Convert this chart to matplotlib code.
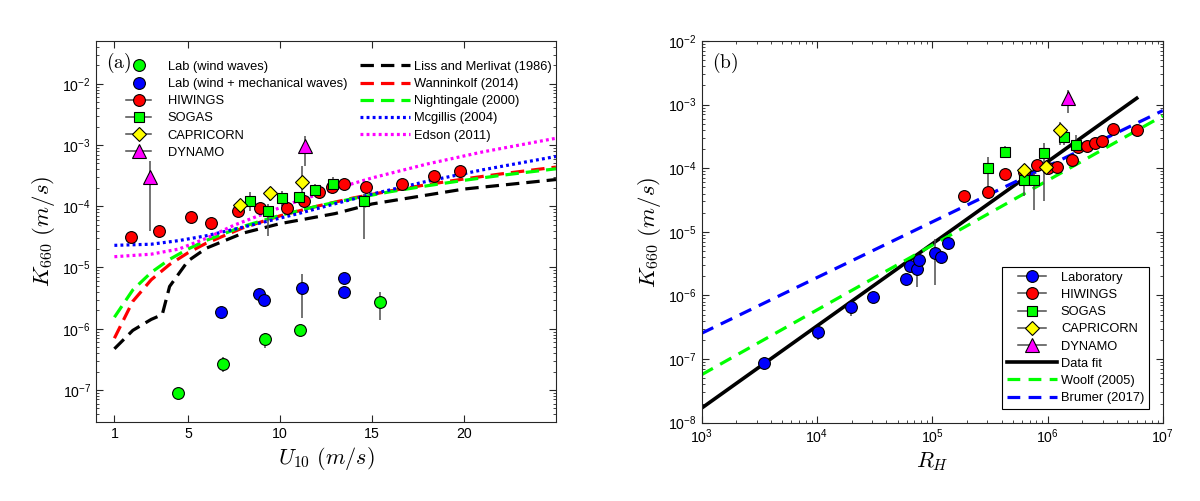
import numpy as np
import matplotlib.pyplot as plt
from matplotlib.lines import Line2D
from matplotlib.legend_handler import HandlerLine2D

plt.rcParams['font.family'] = ['Liberation Sans', 'DejaVu Sans']
plt.rcParams['mathtext.fontset'] = 'custom'
plt.rcParams['mathtext.rm'] = 'Liberation Sans'
plt.rcParams['mathtext.it'] = 'Liberation Sans:italic'
plt.rcParams['mathtext.bf'] = 'Liberation Sans:bold'

# ---------------- panel (a): K660 vs U10 ----------------
# lab, wind waves only
lab_ww_u = [4.46, 6.91, 9.21, 11.11, 15.46]
lab_ww_k = [8.8e-8, 2.7e-7, 6.7e-7, 9.7e-7, 2.7e-6]
lab_ww_lo = [8.8e-8, 2.0e-7, 4.8e-7, 9.7e-7, 1.4e-6]
lab_ww_hi = [8.8e-8, 3.4e-7, 8.5e-7, 9.7e-7, 4.0e-6]

# lab, wind + mechanical waves
lab_wm_u = [6.78, 8.88, 9.13, 11.22, 13.46, 13.46]
lab_wm_k = [1.86e-6, 3.74e-6, 2.95e-6, 4.69e-6, 6.8e-6, 4.0e-6]
lab_wm_lo = [1.86e-6, 3.74e-6, 2.95e-6, 1.47e-6, 6.8e-6, 4.0e-6]
lab_wm_hi = [1.86e-6, 3.74e-6, 2.95e-6, 7.9e-6, 6.8e-6, 4.0e-6]

hiw_u = [1.89, 3.43, 5.17, 6.27, 7.74, 8.93, 10.38, 11.29, 12.12, 12.83,
         13.46, 14.66, 16.63, 18.39, 19.8]
hiw_k = [3.1e-5, 3.9e-5, 6.6e-5, 5.4e-5, 8.3e-5, 9.2e-5, 9.3e-5, 1.2e-4,
         1.7e-4, 2.1e-4, 2.28e-4, 2.07e-4, 2.3e-4, 3.1e-4, 3.7e-4]

sog_u = [8.39, 9.35, 10.09, 11.02, 11.91, 12.9, 14.59]
sog_k = [1.24e-4, 8.5e-5, 1.38e-4, 1.43e-4, 1.87e-4, 2.34e-4, 1.24e-4]
sog_lo = [8.5e-5, 3.3e-5, 1.0e-4, 1.25e-4, 1.5e-4, 1.75e-4, 2.9e-5]
sog_hi = [1.7e-4, 1.1e-4, 1.8e-4, 1.6e-4, 2.3e-4, 3.0e-4, 1.6e-4]

cap_u = [7.85, 9.44, 11.22]
cap_k = [1.06e-4, 1.65e-4, 2.5e-4]
cap_lo = [1.06e-4, 1.2e-4, 1.4e-4]
cap_hi = [1.06e-4, 2.1e-4, 4.6e-4]

dyn_u = [2.96, 11.34]
dyn_k = [3.0e-4, 9.7e-4]
dyn_lo = [4.0e-5, 4.6e-4]
dyn_hi = [5.5e-4, 1.38e-3]

# parameterisations
lm_u = [1, 2, 3, 3.6, 4, 5, 6, 8, 10, 13, 15, 20, 25]
lm_k = [4.7e-7, 9.4e-7, 1.42e-6, 1.7e-6, 4.9e-6, 1.28e-5, 2.07e-5, 3.65e-5,
        5.2e-5, 7.6e-5, 1.09e-4, 1.91e-4, 2.73e-4]
wan_u = [1, 2, 3, 4, 5, 6, 8, 10, 12, 14, 16, 18, 20, 22, 25]
wan_k = [7.0e-7, 2.8e-6, 6.3e-6, 1.12e-5, 1.74e-5, 2.5e-5, 4.46e-5, 6.97e-5,
         1.0e-4, 1.37e-4, 1.78e-4, 2.26e-4, 2.79e-4, 3.37e-4, 4.36e-4]
nig_u = [1, 2, 3, 4, 5, 6, 8, 10, 12, 14, 16, 18, 20, 22, 25]
nig_k = [1.54e-6, 4.3e-6, 8.3e-6, 1.36e-5, 2.0e-5, 2.78e-5, 4.69e-5, 7.09e-5,
         1.0e-4, 1.34e-4, 1.73e-4, 2.16e-4, 2.65e-4, 3.19e-4, 4.09e-4]
mcg_u = [1, 3, 4.5, 6, 7.5, 9, 11, 13, 15, 18, 21, 25]
mcg_k = [2.3e-5, 2.4e-5, 2.75e-5, 3.3e-5, 4.2e-5, 5.4e-5, 7.6e-5, 1.1e-4,
         1.58e-4, 2.56e-4, 3.93e-4, 6.5e-4]
eds_u = [1, 3, 4.5, 6, 7.5, 9, 11, 13, 15, 18, 21, 25]
eds_k = [1.5e-5, 1.65e-5, 2.0e-5, 3.0e-5, 4.9e-5, 7.3e-5, 1.23e-4, 1.93e-4,
         2.9e-4, 4.9e-4, 7.7e-4, 1.29e-3]

# ---------------- panel (b): K660 vs R_H ----------------
lab_rh = [3.45e3, 1.03e4, 1.96e4, 3.03e4, 5.93e4, 6.43e4, 7.3e4, 7.7e4,
          1.06e5, 1.19e5, 1.36e5]
lab_k = [8.8e-8, 2.7e-7, 6.5e-7, 9.6e-7, 1.8e-6, 2.86e-6, 2.6e-6, 3.6e-6,
         4.6e-6, 4.0e-6, 6.6e-6]
lab_lo = [8.8e-8, 2.0e-7, 4.7e-7, 9.6e-7, 1.8e-6, 2.86e-6, 1.35e-6, 3.6e-6,
          1.46e-6, 4.0e-6, 6.6e-6]
lab_hi = [8.8e-8, 2.7e-7, 6.5e-7, 9.6e-7, 1.8e-6, 2.86e-6, 3.7e-6, 3.6e-6,
          7.7e-6, 4.0e-6, 6.6e-6]

hiw_rh = [1.9e5, 3.05e5, 4.28e5, 6.2e5, 8.1e5, 1.0e6, 1.2e6, 1.62e6, 1.85e6,
          2.19e6, 2.59e6, 2.98e6, 3.68e6, 5.95e6]
hiw_kb = [3.72e-5, 4.3e-5, 8.05e-5, 8.6e-5, 1.13e-4, 1.0e-4, 1.04e-4, 1.35e-4,
          2.19e-4, 2.27e-4, 2.47e-4, 2.72e-4, 4.1e-4, 4.0e-4]

sog_rh = [3.05e5, 4.28e5, 6.3e5, 7.7e5, 9.4e5, 1.4e6, 1.76e6]
sog_kb = [1.0e-4, 1.83e-4, 6.56e-5, 6.6e-5, 1.76e-4, 3.07e-4, 2.3e-4]
sog_lob = [4.3e-5, 1.43e-4, 3.7e-5, 2.2e-5, 3.0e-5, 2.3e-4, 1.83e-4]
sog_hib = [1.52e-4, 2.24e-4, 8.3e-5, 8.3e-5, 2.47e-4, 4.0e-4, 3.3e-4]

cap_rh = [6.3e5, 9.7e5, 1.29e6]
cap_kb = [9.4e-5, 1.04e-4, 4.0e-4]
cap_lob = [9.4e-5, 1.04e-4, 2.3e-4]
cap_hib = [9.4e-5, 1.04e-4, 5.4e-4]

dyn_rh = [1.51e6]
dyn_kb = [1.26e-3]
dyn_lob = [7.4e-4]
dyn_hib = [1.72e-3]

fit_rh = [1e3, 5.94e6]
fit_k = [1.7e-8, 1.26e-3]
woolf_rh = [1e3, 1e7]
woolf_k = [5.7e-8, 6.65e-4]
brumer_rh = [1e3, 1e7]
brumer_k = [2.55e-7, 8.05e-4]

RED, GRN, BLU, YEL, MAG = '#ff0000', '#00ff00', '#0000ff', '#ffff00', '#ff00ff'
ECOL = '0.3'


def errpts(ax, x, y, lo, hi, marker, fc, ms):
    y = np.asarray(y)
    yerr = [y - np.asarray(lo), np.asarray(hi) - y]
    ax.errorbar(x, y, yerr=yerr, fmt='none', ecolor=ECOL, elinewidth=1.1, zorder=3)
    ax.plot(x, y, ls='none', marker=marker, mfc=fc, mec='k', mew=0.8, ms=ms, zorder=4)


def style(ax):
    ax.tick_params(which='both', direction='in', top=True, right=True,
                   labelsize=10.2, color='0.15')
    ax.tick_params(which='major', length=5)
    ax.tick_params(which='minor', length=2.5)
    for s in ax.spines.values():
        s.set_color('0.15')
        s.set_linewidth(0.8)


class ShortLine(HandlerLine2D):
    def create_artists(self, *args, **kw):
        arts = super().create_artists(*args, **kw)
        for a in arts:
            x = np.asarray(a.get_xdata(), float)
            c = x.mean()
            a.set_xdata(c + (x - c) * 0.55)
        return arts


fig = plt.figure(figsize=(12, 5.01), dpi=100)
ax1 = fig.add_axes([0.08, 0.1577, 0.3833, 0.7605])
ax2 = fig.add_axes([0.5848, 0.1563, 0.3842, 0.7619])

# ---------------- draw panel (a) ----------------
LW = 2.3
DASH = (4.2, 2.2)
DOT = (0.9, 1.0)
ax1.plot(lm_u, lm_k, color='k', lw=LW, dashes=DASH, zorder=2)
ax1.plot(wan_u, wan_k, color=RED, lw=LW, dashes=DASH, zorder=2)
ax1.plot(nig_u, nig_k, color=GRN, lw=LW, dashes=DASH, zorder=2)
ax1.plot(mcg_u, mcg_k, color=BLU, lw=LW, dashes=DOT, zorder=2)
ax1.plot(eds_u, eds_k, color=MAG, lw=LW, dashes=DOT, zorder=2)

errpts(ax1, lab_ww_u, lab_ww_k, lab_ww_lo, lab_ww_hi, 'o', GRN, 8.5)
errpts(ax1, lab_wm_u, lab_wm_k, lab_wm_lo, lab_wm_hi, 'o', BLU, 8.5)
errpts(ax1, hiw_u, hiw_k, hiw_k, hiw_k, 'o', RED, 8.5)
errpts(ax1, sog_u, sog_k, sog_lo, sog_hi, 's', GRN, 6.5)
errpts(ax1, cap_u, cap_k, cap_lo, cap_hi, 'D', YEL, 7)
errpts(ax1, dyn_u, dyn_k, dyn_lo, dyn_hi, '^', MAG, 9.5)

ax1.set_yscale('log')
ax1.set_xlim(0, 25)
ax1.set_ylim(3e-8, 5e-2)
ax1.set_xticks([1, 5, 10, 15, 20])
style(ax1)
ax1.set_xlabel(r'$U_{10}\ (m/s)$', math_fontfamily='cm', fontsize=16, labelpad=3)
ax1.set_ylabel(r'$K_{660}\ (m/s)$', math_fontfamily='cm', fontsize=16.5, labelpad=4)
ax1.text(0.022, 0.975, r'$\mathrm{(a)}$', transform=ax1.transAxes, ha='left', va='top',
         math_fontfamily='cm', fontsize=14)

mk_handles = [
    Line2D([], [], ls='none', marker='o', mfc=GRN, mec='k', mew=0.8, ms=8.5),
    Line2D([], [], ls='none', marker='o', mfc=BLU, mec='k', mew=0.8, ms=8.5),
    Line2D([], [], color=ECOL, lw=1.1, marker='o', mfc=RED, mec='k', mew=0.8, ms=8.5),
    Line2D([], [], color=ECOL, lw=1.1, marker='s', mfc=GRN, mec='k', mew=0.8, ms=6.5),
    Line2D([], [], color=ECOL, lw=1.1, marker='D', mfc=YEL, mec='k', mew=0.8, ms=7),
    Line2D([], [], color=ECOL, lw=1.1, marker='^', mfc=MAG, mec='k', mew=0.8, ms=9.5),
]
mk_labels = ['Lab (wind waves)', 'Lab (wind + mechanical waves)', 'HIWINGS', 'SOGAS',
             'CAPRICORN', 'DYNAMO']
leg1 = ax1.legend(mk_handles, mk_labels, loc='upper left', bbox_to_anchor=(0.066, 0.948),
                  frameon=False, fontsize=9.3, handlelength=1.94, handletextpad=1.27,
                  labelspacing=0.4, borderpad=0, borderaxespad=0)
ax1.add_artist(leg1)

ln_handles = [
    Line2D([], [], color='k', lw=LW, dashes=DASH),
    Line2D([], [], color=RED, lw=LW, dashes=DASH),
    Line2D([], [], color=GRN, lw=LW, dashes=DASH),
    Line2D([], [], color=BLU, lw=LW, dashes=DOT),
    Line2D([], [], color=MAG, lw=LW, dashes=DOT),
]
ln_labels = ['Liss and Merlivat (1986)', 'Wanninkolf (2014)', 'Nightingale (2000)',
             'Mcgillis (2004)', 'Edson (2011)']
ax1.legend(ln_handles, ln_labels, loc='upper left', bbox_to_anchor=(0.574, 0.948),
           frameon=False, fontsize=9.3, handlelength=3.87, handletextpad=0.31,
           labelspacing=0.4, borderpad=0, borderaxespad=0)

# ---------------- draw panel (b) ----------------
ax2.plot(fit_rh, fit_k, color='k', lw=2.6, zorder=2)
ax2.plot(woolf_rh, woolf_k, color=GRN, lw=LW, dashes=(4.0, 2.6), zorder=2)
ax2.plot(brumer_rh, brumer_k, color=BLU, lw=LW, dashes=(4.0, 2.6), zorder=2)

errpts(ax2, lab_rh, lab_k, lab_lo, lab_hi, 'o', BLU, 8.5)
errpts(ax2, hiw_rh, hiw_kb, hiw_kb, hiw_kb, 'o', RED, 8.5)
errpts(ax2, sog_rh, sog_kb, sog_lob, sog_hib, 's', GRN, 6.5)
errpts(ax2, cap_rh, cap_kb, cap_lob, cap_hib, 'D', YEL, 7)
errpts(ax2, dyn_rh, dyn_kb, dyn_lob, dyn_hib, '^', MAG, 9.5)

ax2.set_xscale('log')
ax2.set_yscale('log')
ax2.set_xlim(1e3, 1e7)
ax2.set_ylim(1e-8, 1e-2)
style(ax2)
ax2.set_xlabel(r'$R_H$', math_fontfamily='cm', fontsize=16, labelpad=3)
ax2.set_ylabel(r'$K_{660}\ (m/s)$', math_fontfamily='cm', fontsize=16.5, labelpad=4)
ax2.text(0.022, 0.975, r'$\mathrm{(b)}$', transform=ax2.transAxes, ha='left', va='top',
         math_fontfamily='cm', fontsize=14)

b_handles = [
    Line2D([], [], color=ECOL, lw=1.1, marker='o', mfc=BLU, mec='k', mew=0.8, ms=8.5),
    Line2D([], [], color=ECOL, lw=1.1, marker='o', mfc=RED, mec='k', mew=0.8, ms=8.5),
    Line2D([], [], color=ECOL, lw=1.1, marker='s', mfc=GRN, mec='k', mew=0.8, ms=6.5),
    Line2D([], [], color=ECOL, lw=1.1, marker='D', mfc=YEL, mec='k', mew=0.8, ms=7),
    Line2D([], [], color=ECOL, lw=1.1, marker='^', mfc=MAG, mec='k', mew=0.8, ms=9.5),
    Line2D([], [], color='k', lw=2.6),
    Line2D([], [], color=GRN, lw=LW, dashes=(4.0, 2.6)),
    Line2D([], [], color=BLU, lw=LW, dashes=(4.0, 2.6)),
]
b_labels = ['Laboratory', 'HIWINGS', 'SOGAS', 'CAPRICORN', 'DYNAMO', 'Data fit',
            'Woolf (2005)', 'Brumer (2017)']
hmap = {h: ShortLine() for h in b_handles[:5]}
leg2 = ax2.legend(b_handles, b_labels, loc='lower right', bbox_to_anchor=(0.971, 0.035),
                  fontsize=9.3, handlelength=3.87, handletextpad=0.31, labelspacing=0.4,
                  borderpad=0.4, borderaxespad=0, fancybox=False, edgecolor='k',
                  framealpha=1, handler_map=hmap)
leg2.get_frame().set_linewidth(0.8)

fig.savefig('out.png', dpi=100)
